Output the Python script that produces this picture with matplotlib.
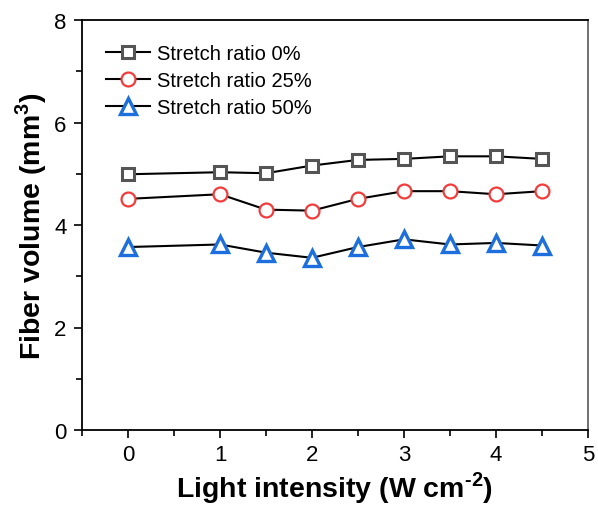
import matplotlib
matplotlib.use("Agg")
import matplotlib.pyplot as plt
from matplotlib.ticker import MultipleLocator

plt.rcParams['font.family'] = ['Liberation Sans', 'DejaVu Sans']
plt.rcParams['mathtext.fontset'] = 'custom'
plt.rcParams['mathtext.rm'] = 'Liberation Sans:bold'
plt.rcParams['mathtext.bf'] = 'Liberation Sans:bold'

intensity = [0, 1, 1.5, 2, 2.5, 3, 3.5, 4, 4.5]
ratio0 = [4.99, 5.03, 5.01, 5.16, 5.27, 5.29, 5.34, 5.34, 5.29]
ratio25 = [4.51, 4.60, 4.30, 4.28, 4.51, 4.66, 4.66, 4.60, 4.66]
ratio50 = [3.57, 3.62, 3.46, 3.36, 3.57, 3.72, 3.62, 3.65, 3.60]
labels = ['Stretch ratio 0%', 'Stretch ratio 25%', 'Stretch ratio 50%']

fig = plt.figure(figsize=(5.98, 5.10), dpi=100)
ax = fig.add_axes([82 / 598, 79 / 510, 506 / 598, 410 / 510])

ax.plot(intensity, ratio0, color='black', lw=1.5, marker='s', ms=9,
        mfc='white', mec='#555555', mew=2.2, label=labels[0])
ax.plot(intensity, ratio25, color='black', lw=1.5, marker='o', ms=10,
        mfc='white', mec='#f03c3c', mew=1.6, label=labels[1])
ax.plot(intensity, ratio50, color='black', lw=1.5, marker='^', ms=11,
        mfc='white', mec='#1c6fdc', mew=2.4, label=labels[2])

ax.set_xlim(-0.5, 5)
ax.set_ylim(0, 8)
ax.xaxis.set_major_locator(MultipleLocator(1))
ax.xaxis.set_minor_locator(MultipleLocator(0.5))
ax.yaxis.set_major_locator(MultipleLocator(2))
ax.yaxis.set_minor_locator(MultipleLocator(1))
ax.tick_params(which='both', direction='out', top=False, right=False,
               labelsize=16, width=1.2)
ax.tick_params(which='major', length=6)
ax.tick_params(which='minor', length=4)
ax.tick_params(axis='x', pad=4)
ax.tick_params(axis='y', pad=5)
for s in ax.spines.values():
    s.set_linewidth(1.3)
ax.spines['right'].set_color('#666666')

ax.set_xlabel('Light intensity (W cm$^{\\text{-2}}$)', fontsize=20.5, fontweight='bold', labelpad=3)
ax.set_ylabel('Fiber volume (mm$^{\\text{3}}$)', fontsize=20.5, fontweight='bold', labelpad=4)

leg = ax.legend(loc='upper left', frameon=False, fontsize=14.5, handlelength=2.2,
                handletextpad=0.35, labelspacing=0.38, bbox_to_anchor=(0.011, 0.985))

fig.savefig('out.png', dpi=100)
